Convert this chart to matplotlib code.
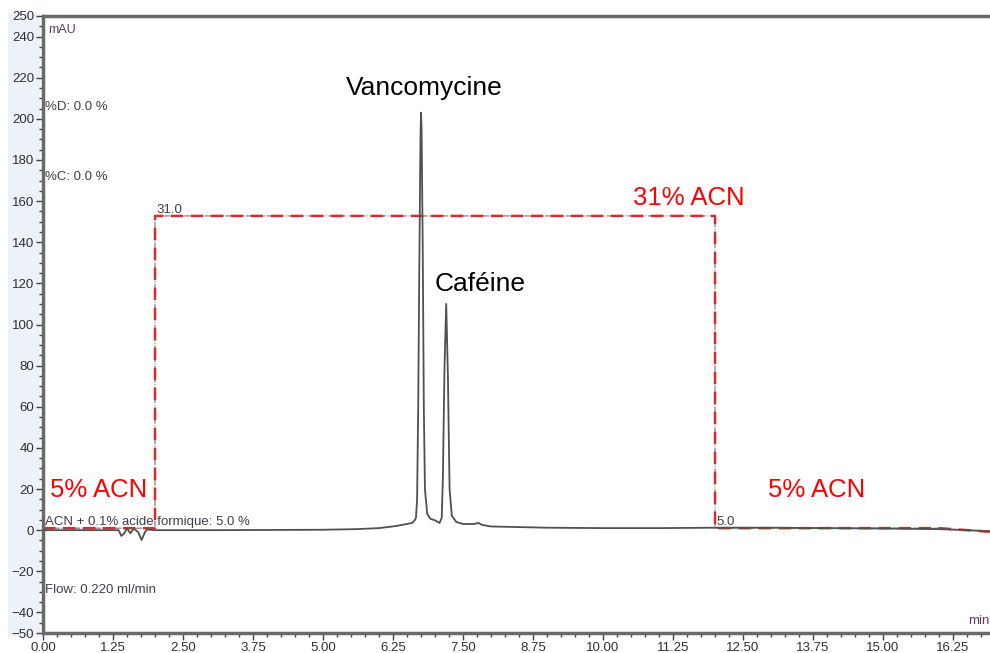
import numpy as np
import matplotlib
matplotlib.use('Agg')
from matplotlib import pyplot as plt
from matplotlib.ticker import MultipleLocator, FixedLocator
from matplotlib.patches import Rectangle

plt.rcParams['font.family'] = ['Liberation Sans', 'DejaVu Sans']

# chromatogram trace (min, mAU)
trace_t = [0.0, 1.2, 1.35, 1.40, 1.45, 1.50, 1.56, 1.62, 1.70, 1.76, 1.82, 1.86, 2.0,
           3.0, 4.0, 5.0, 5.6, 6.0, 6.3, 6.5, 6.6, 6.64, 6.66, 6.68, 6.70, 6.72, 6.74,
           6.75, 6.76, 6.78, 6.80, 6.82, 6.86, 6.92, 7.0, 7.08, 7.12, 7.14, 7.17, 7.20,
           7.23, 7.26, 7.30, 7.38, 7.5, 7.7, 7.77, 7.85, 8.0, 9.0, 10.0, 11.0, 12.0,
           13.0, 14.0, 15.0, 16.0, 16.5, 16.9]
trace_mau = [0.0, 0.0, 0.0, -2.8, -1.5, 0.8, -1.5, 0.8, -1.0, -4.8, -1.0, 0.3, 0.0,
             0.0, 0.1, 0.2, 0.5, 1.0, 2.0, 3.0, 3.6, 5.0, 6.0, 15.0, 60.0, 130.0, 190.0,
             203.0, 195.0, 140.0, 60.0, 20.0, 8.0, 5.5, 4.8, 3.5, 6.0, 25.0, 80.0, 110.0,
             75.0, 20.0, 7.0, 4.0, 3.0, 3.0, 3.5, 2.5, 1.8, 1.2, 1.0, 1.0, 1.2,
             1.2, 1.0, 0.8, 0.5, 0.0, -0.5]

# solvent gradient (% ACN)
grad_t = [0.0, 2.0, 2.0, 12.0, 12.0, 16.0, 16.9]
grad_pct = [5.0, 5.0, 31.0, 31.0, 5.0, 5.0, 4.7]

peak_names = ['Vancomycine', 'Caféine']
peak_lbl_t = [6.8, 7.8]
peak_lbl_y = [209, 114]

method_lines = ['%D: 0.0 %', '%C: 0.0 %', 'ACN + 0.1% acide formique: 5.0 %', 'Flow: 0.220 ml/min']
method_y = [203, 169, 1.2, -32]

fig = plt.figure(figsize=(9.9, 6.53), dpi=100)
fig.patches.append(Rectangle((8/990, 16/653), 32/990, 624/653, transform=fig.transFigure,
                             facecolor='#edf2fa', edgecolor='none', zorder=-1))
ax = fig.add_axes([43/990, 20/653, 1 - 43/990, 617/653])

ax.plot(trace_t, trace_mau, color='#505050', lw=1.3, zorder=3)
ax.set_xlim(0, 16.91)
ax.set_ylim(-50, 250)

# gradient on its own scale
ax2 = ax.twinx()
ax2.plot(grad_t, grad_pct, color='#ff1a1a', lw=1.8, ls=(0, (5, 3)), zorder=2)
ax2.plot(grad_t, grad_pct, color='#606060', lw=0.7, ls='-.', zorder=3)
ax2.set_ylim(-3.73, 47.65)
ax2.axis('off')
ax.set_zorder(ax2.get_zorder() + 1)
ax.patch.set_visible(False)

ax2.text(2.03, 31.0, '31.0', fontsize=9.5, color='#404040', va='bottom')
ax2.text(12.03, 5.0, '5.0', fontsize=9.5, color='#404040', va='bottom')
ax2.text(1.0, 7.6, '5% ACN', fontsize=18.5, color='#ff0000', ha='center')
ax2.text(13.82, 7.6, '5% ACN', fontsize=18.5, color='#ff0000', ha='center')
ax2.text(11.53, 31.9, '31% ACN', fontsize=18.5, color='#ff0000', ha='center')

for name, t, yl in zip(peak_names, peak_lbl_t, peak_lbl_y):
    ax.text(t, yl, name, fontsize=19, color='black', ha='center', va='bottom')

for s, y in zip(method_lines, method_y):
    ax.text(0.03, y, s, fontsize=9.5, color='#3f3f48', va='bottom')

ax.text(0.1, 246, 'mAU', fontsize=9, color='#603a60', va='top')
ax.text(16.52, -47, 'min', fontsize=9.5, color='#603a60', va='bottom')

ax.xaxis.set_major_locator(MultipleLocator(1.25))
ax.xaxis.set_minor_locator(MultipleLocator(0.25))
ax.xaxis.set_major_formatter(matplotlib.ticker.FormatStrFormatter('%.2f'))
ax.yaxis.set_major_locator(FixedLocator([-50, -40, -20, 0, 20, 40, 60, 80, 100, 120, 140,
                                         160, 180, 200, 220, 240, 250]))
ax.yaxis.set_minor_locator(MultipleLocator(5))
ax.tick_params(which='major', length=5, width=1, color='#404040', labelsize=9.5,
               labelcolor='#303030', pad=1.5)
ax.tick_params(which='minor', length=3, width=1, color='#404040')

for side in ['left', 'bottom', 'top']:
    ax.spines[side].set_linewidth(2.5)
    ax.spines[side].set_color('#6a6a6a')
ax.spines['right'].set_visible(False)

fig.savefig('out.png', dpi=100)
